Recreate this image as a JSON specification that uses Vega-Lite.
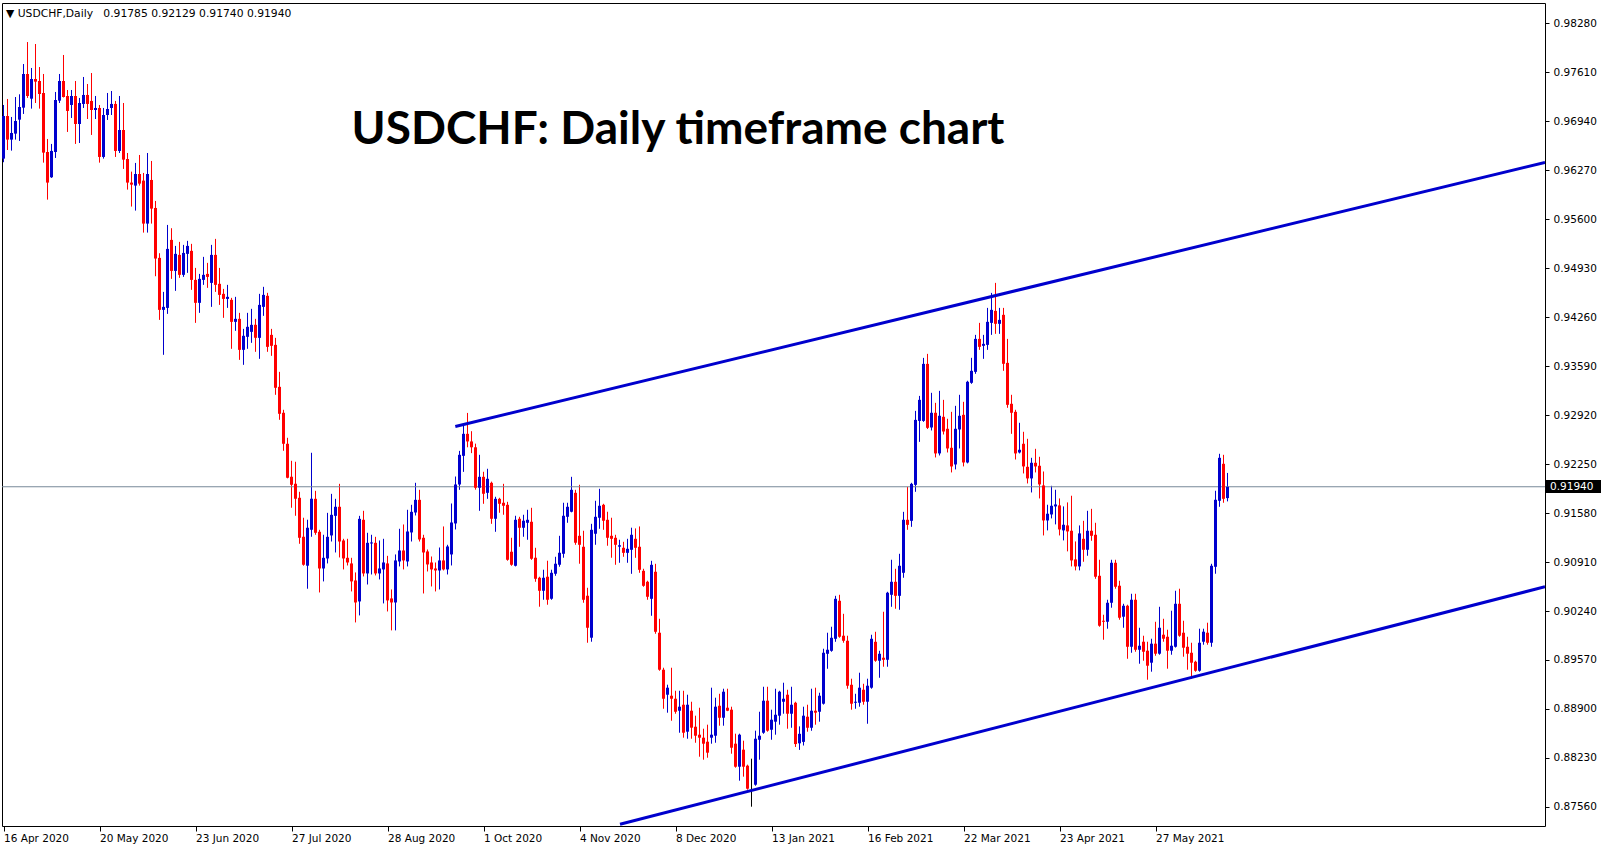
{
"$schema": "https://vega.github.io/schema/vega-lite/v6.json",
"width": 1543, "height": 823,
"autosize": {"type": "none"},
"padding": {"left": 2, "top": 3, "right": 62, "bottom": 24},
"background": "white",
"config": {"view": {"stroke": "#000000", "strokeWidth": 1}, "axis": {"grid": false, "domain": false, "title": null}, "scale": {"continuousPadding": 0}},
"datasets": {
"bid": [{"p": 0.9194}],
"title": [{"t": "USDCHF: Daily timeframe chart"}],
"header": [{"t": "▼ USDCHF,Daily\u00a0\u00a0 0.91785 0.92129 0.91740 0.91940"}],
"trend": [
{"ln": "upper", "i": 112.95, "p": 0.92764}, {"ln": "upper", "i": 385.375, "p": 0.96378},
{"ln": "lower", "i": 154.125, "p": 0.87324}, {"ln": "lower", "i": 385.375, "p": 0.90572}
],
"candles": [
{"i":0,"o":0.96429,"h":0.97163,"l":0.9638,"c":0.97012},
{"i":1,"o":0.97012,"h":0.97245,"l":0.96547,"c":0.96689},
{"i":2,"o":0.96689,"h":0.96999,"l":0.96538,"c":0.9678},
{"i":3,"o":0.96771,"h":0.97272,"l":0.96689,"c":0.96944},
{"i":4,"o":0.96962,"h":0.97309,"l":0.96671,"c":0.97135},
{"i":5,"o":0.97126,"h":0.97723,"l":0.9704,"c":0.97587},
{"i":6,"o":0.97587,"h":0.98024,"l":0.97259,"c":0.97286},
{"i":7,"o":0.97249,"h":0.97669,"l":0.97113,"c":0.97518},
{"i":8,"o":0.97518,"h":0.97997,"l":0.9719,"c":0.97482},
{"i":9,"o":0.97491,"h":0.97682,"l":0.97113,"c":0.97313},
{"i":10,"o":0.97327,"h":0.97587,"l":0.96374,"c":0.96511},
{"i":11,"o":0.9652,"h":0.96698,"l":0.95868,"c":0.96101},
{"i":12,"o":0.96174,"h":0.9663,"l":0.96165,"c":0.96534},
{"i":13,"o":0.9652,"h":0.97341,"l":0.96438,"c":0.97231},
{"i":14,"o":0.97222,"h":0.97587,"l":0.9719,"c":0.97491},
{"i":15,"o":0.97491,"h":0.97847,"l":0.97265,"c":0.97272},
{"i":16,"o":0.97286,"h":0.97368,"l":0.96794,"c":0.97081},
{"i":17,"o":0.97163,"h":0.97368,"l":0.96985,"c":0.97286},
{"i":18,"o":0.97286,"h":0.97491,"l":0.9663,"c":0.96903},
{"i":19,"o":0.96903,"h":0.97259,"l":0.96643,"c":0.9719},
{"i":20,"o":0.97177,"h":0.97546,"l":0.97122,"c":0.973},
{"i":21,"o":0.973,"h":0.9745,"l":0.96971,"c":0.97177},
{"i":22,"o":0.97218,"h":0.976,"l":0.96753,"c":0.97094},
{"i":23,"o":0.97094,"h":0.97286,"l":0.96971,"c":0.97122},
{"i":24,"o":0.97122,"h":0.97163,"l":0.96374,"c":0.96452},
{"i":25,"o":0.96452,"h":0.97122,"l":0.96429,"c":0.97026},
{"i":26,"o":0.97026,"h":0.97327,"l":0.96958,"c":0.97108},
{"i":27,"o":0.97122,"h":0.97354,"l":0.97026,"c":0.97177},
{"i":28,"o":0.97177,"h":0.97218,"l":0.96452,"c":0.96534},
{"i":29,"o":0.96534,"h":0.97286,"l":0.96506,"c":0.96821},
{"i":30,"o":0.96821,"h":0.9719,"l":0.96288,"c":0.96415},
{"i":31,"o":0.96424,"h":0.96506,"l":0.96005,"c":0.96101},
{"i":32,"o":0.96101,"h":0.96251,"l":0.95773,"c":0.96073},
{"i":33,"o":0.9606,"h":0.9637,"l":0.95718,"c":0.96219},
{"i":34,"o":0.96219,"h":0.96479,"l":0.9606,"c":0.96087},
{"i":35,"o":0.96128,"h":0.96233,"l":0.95417,"c":0.9554},
{"i":36,"o":0.9554,"h":0.96506,"l":0.95417,"c":0.96219},
{"i":37,"o":0.96137,"h":0.96397,"l":0.9554,"c":0.95745},
{"i":38,"o":0.95754,"h":0.9585,"l":0.9482,"c":0.95062},
{"i":39,"o":0.95071,"h":0.95135,"l":0.94223,"c":0.9436},
{"i":40,"o":0.9436,"h":0.94606,"l":0.93745,"c":0.94401},
{"i":41,"o":0.94387,"h":0.95522,"l":0.94305,"c":0.95194},
{"i":42,"o":0.95317,"h":0.95477,"l":0.94784,"c":0.94893},
{"i":43,"o":0.94893,"h":0.95235,"l":0.9462,"c":0.95126},
{"i":44,"o":0.95112,"h":0.9529,"l":0.94798,"c":0.94839},
{"i":45,"o":0.94839,"h":0.95249,"l":0.94811,"c":0.95139},
{"i":46,"o":0.95126,"h":0.95304,"l":0.94866,"c":0.95235},
{"i":47,"o":0.95167,"h":0.95263,"l":0.94634,"c":0.9477},
{"i":48,"o":0.9477,"h":0.94934,"l":0.94182,"c":0.94456},
{"i":49,"o":0.94456,"h":0.94852,"l":0.94319,"c":0.94784},
{"i":50,"o":0.9477,"h":0.95085,"l":0.94702,"c":0.94839},
{"i":51,"o":0.94852,"h":0.95003,"l":0.94661,"c":0.94811},
{"i":52,"o":0.94729,"h":0.95249,"l":0.94401,"c":0.95112},
{"i":53,"o":0.95112,"h":0.95331,"l":0.94606,"c":0.94702},
{"i":54,"o":0.94716,"h":0.94934,"l":0.94428,"c":0.94565},
{"i":55,"o":0.94579,"h":0.94647,"l":0.94251,"c":0.9451},
{"i":56,"o":0.9451,"h":0.94702,"l":0.94387,"c":0.94538},
{"i":57,"o":0.94497,"h":0.94524,"l":0.93827,"c":0.94196},
{"i":58,"o":0.94196,"h":0.94538,"l":0.94073,"c":0.94237},
{"i":59,"o":0.94237,"h":0.94319,"l":0.93676,"c":0.93813},
{"i":60,"o":0.93813,"h":0.941,"l":0.93608,"c":0.94005},
{"i":61,"o":0.93991,"h":0.94319,"l":0.93827,"c":0.94128},
{"i":62,"o":0.94059,"h":0.94374,"l":0.93909,"c":0.94155},
{"i":63,"o":0.94155,"h":0.94237,"l":0.93786,"c":0.93977},
{"i":64,"o":0.93977,"h":0.94579,"l":0.9369,"c":0.94428},
{"i":65,"o":0.94401,"h":0.94675,"l":0.94278,"c":0.94565},
{"i":66,"o":0.94552,"h":0.94593,"l":0.93786,"c":0.93854},
{"i":67,"o":0.94018,"h":0.941,"l":0.93731,"c":0.93868},
{"i":68,"o":0.93881,"h":0.93977,"l":0.93198,"c":0.93294},
{"i":69,"o":0.93307,"h":0.93512,"l":0.92856,"c":0.92938},
{"i":70,"o":0.92952,"h":0.92993,"l":0.92432,"c":0.92528},
{"i":71,"o":0.92528,"h":0.9261,"l":0.92055,"c":0.92063},
{"i":72,"o":0.92077,"h":0.92295,"l":0.91653,"c":0.91967},
{"i":73,"o":0.91981,"h":0.92282,"l":0.91543,"c":0.91776},
{"i":74,"o":0.91789,"h":0.91871,"l":0.9116,"c":0.91242},
{"i":75,"o":0.91256,"h":0.91516,"l":0.9086,"c":0.90873},
{"i":76,"o":0.9086,"h":0.91489,"l":0.90545,"c":0.91379},
{"i":77,"o":0.91352,"h":0.92405,"l":0.91256,"c":0.91776},
{"i":78,"o":0.91775,"h":0.91884,"l":0.91283,"c":0.9131},
{"i":79,"o":0.91324,"h":0.91351,"l":0.90494,"c":0.90822},
{"i":80,"o":0.90822,"h":0.91283,"l":0.90645,"c":0.90968},
{"i":81,"o":0.90959,"h":0.91583,"l":0.90891,"c":0.91255},
{"i":82,"o":0.91274,"h":0.91843,"l":0.91191,"c":0.91556},
{"i":83,"o":0.91542,"h":0.91775,"l":0.91041,"c":0.91666},
{"i":84,"o":0.91666,"h":0.9198,"l":0.90973,"c":0.91191},
{"i":85,"o":0.91205,"h":0.91228,"l":0.90809,"c":0.90959},
{"i":86,"o":0.90968,"h":0.91228,"l":0.90863,"c":0.90904},
{"i":87,"o":0.90891,"h":0.90968,"l":0.90508,"c":0.90645},
{"i":88,"o":0.90658,"h":0.90768,"l":0.90084,"c":0.90357},
{"i":89,"o":0.90371,"h":0.91542,"l":0.9018,"c":0.91501},
{"i":90,"o":0.91488,"h":0.91611,"l":0.90713,"c":0.90754},
{"i":91,"o":0.90754,"h":0.9131,"l":0.90603,"c":0.91173},
{"i":92,"o":0.91164,"h":0.91283,"l":0.9074,"c":0.91178},
{"i":93,"o":0.91173,"h":0.91255,"l":0.90727,"c":0.90754},
{"i":94,"o":0.90754,"h":0.91205,"l":0.90672,"c":0.90822},
{"i":95,"o":0.90809,"h":0.91228,"l":0.90344,"c":0.90904},
{"i":96,"o":0.90891,"h":0.90995,"l":0.90234,"c":0.90385},
{"i":97,"o":0.90412,"h":0.90535,"l":0.89975,"c":0.90357},
{"i":98,"o":0.90357,"h":0.91014,"l":0.89975,"c":0.90932},
{"i":99,"o":0.90918,"h":0.91365,"l":0.9085,"c":0.91068},
{"i":100,"o":0.91068,"h":0.91424,"l":0.90809,"c":0.90932},
{"i":101,"o":0.90918,"h":0.91625,"l":0.9085,"c":0.91328},
{"i":102,"o":0.91315,"h":0.91693,"l":0.91191,"c":0.91597},
{"i":103,"o":0.91588,"h":0.91994,"l":0.91547,"c":0.91761},
{"i":104,"o":0.91761,"h":0.91898,"l":0.91191,"c":0.91219},
{"i":105,"o":0.91242,"h":0.91283,"l":0.9048,"c":0.91041},
{"i":106,"o":0.91055,"h":0.91082,"l":0.90781,"c":0.90877},
{"i":107,"o":0.90904,"h":0.90986,"l":0.90576,"c":0.90809},
{"i":108,"o":0.90822,"h":0.90904,"l":0.90508,"c":0.90795},
{"i":109,"o":0.90795,"h":0.91109,"l":0.90535,"c":0.90932},
{"i":110,"o":0.90932,"h":0.91397,"l":0.90795,"c":0.90809},
{"i":111,"o":0.90809,"h":0.91146,"l":0.9074,"c":0.91123},
{"i":112,"o":0.91014,"h":0.91711,"l":0.90863,"c":0.91451},
{"i":113,"o":0.91438,"h":0.9208,"l":0.91356,"c":0.91971},
{"i":114,"o":0.91971,"h":0.92431,"l":0.91898,"c":0.92377},
{"i":115,"o":0.92363,"h":0.928,"l":0.92144,"c":0.92664},
{"i":116,"o":0.92664,"h":0.9295,"l":0.9248,"c":0.9256},
{"i":117,"o":0.9256,"h":0.927,"l":0.924,"c":0.9248},
{"i":118,"o":0.9248,"h":0.9253,"l":0.919,"c":0.91926},
{"i":119,"o":0.91926,"h":0.92377,"l":0.91611,"c":0.92076},
{"i":120,"o":0.92076,"h":0.92145,"l":0.91707,"c":0.91844},
{"i":121,"o":0.91857,"h":0.92186,"l":0.91775,"c":0.92049},
{"i":122,"o":0.91994,"h":0.9201,"l":0.91433,"c":0.91502},
{"i":123,"o":0.91502,"h":0.91803,"l":0.91324,"c":0.91775},
{"i":124,"o":0.91775,"h":0.91789,"l":0.91584,"c":0.91707},
{"i":125,"o":0.91721,"h":0.9198,"l":0.91557,"c":0.9168},
{"i":126,"o":0.91693,"h":0.91734,"l":0.90928,"c":0.90941},
{"i":127,"o":0.91051,"h":0.91242,"l":0.90859,"c":0.90873},
{"i":128,"o":0.90859,"h":0.91543,"l":0.9085,"c":0.91488},
{"i":129,"o":0.91502,"h":0.91529,"l":0.91119,"c":0.91379},
{"i":130,"o":0.91379,"h":0.91557,"l":0.91256,"c":0.91475},
{"i":131,"o":0.91447,"h":0.91625,"l":0.91215,"c":0.91488},
{"i":132,"o":0.91461,"h":0.91652,"l":0.9094,"c":0.90955},
{"i":133,"o":0.90969,"h":0.91105,"l":0.9064,"c":0.90681},
{"i":134,"o":0.90695,"h":0.90709,"l":0.90299,"c":0.90517},
{"i":135,"o":0.90517,"h":0.90805,"l":0.90394,"c":0.90695},
{"i":136,"o":0.90709,"h":0.90928,"l":0.90326,"c":0.90394},
{"i":137,"o":0.90408,"h":0.90805,"l":0.90394,"c":0.90763},
{"i":138,"o":0.9075,"h":0.90982,"l":0.90722,"c":0.90887},
{"i":139,"o":0.90873,"h":0.91269,"l":0.90846,"c":0.91037},
{"i":140,"o":0.91023,"h":0.91721,"l":0.90969,"c":0.91543},
{"i":141,"o":0.91529,"h":0.91721,"l":0.91447,"c":0.91666},
{"i":142,"o":0.91598,"h":0.92076,"l":0.9159,"c":0.91898},
{"i":143,"o":0.91857,"h":0.91898,"l":0.91146,"c":0.91174},
{"i":144,"o":0.91269,"h":0.91967,"l":0.90887,"c":0.91146},
{"i":145,"o":0.91119,"h":0.91338,"l":0.90353,"c":0.90394},
{"i":146,"o":0.90449,"h":0.90558,"l":0.89806,"c":0.90011},
{"i":147,"o":0.89875,"h":0.91433,"l":0.8982,"c":0.91351},
{"i":148,"o":0.91297,"h":0.91748,"l":0.91146,"c":0.91529},
{"i":149,"o":0.91516,"h":0.91912,"l":0.91365,"c":0.9168},
{"i":150,"o":0.91693,"h":0.91707,"l":0.91351,"c":0.91475},
{"i":151,"o":0.91488,"h":0.91598,"l":0.91133,"c":0.91242},
{"i":152,"o":0.91269,"h":0.91516,"l":0.90969,"c":0.91228},
{"i":153,"o":0.91242,"h":0.91283,"l":0.90873,"c":0.91146},
{"i":154,"o":0.9112,"h":0.91215,"l":0.909,"c":0.9114},
{"i":155,"o":0.91105,"h":0.91187,"l":0.90982,"c":0.91036},
{"i":156,"o":0.91036,"h":0.91228,"l":0.909,"c":0.91091},
{"i":157,"o":0.91078,"h":0.9138,"l":0.90749,"c":0.91283},
{"i":158,"o":0.91228,"h":0.9137,"l":0.90968,"c":0.91105},
{"i":159,"o":0.91119,"h":0.91397,"l":0.90763,"c":0.90804},
{"i":160,"o":0.9079,"h":0.90818,"l":0.90572,"c":0.90585},
{"i":161,"o":0.9064,"h":0.90654,"l":0.90394,"c":0.90435},
{"i":162,"o":0.90407,"h":0.90927,"l":0.90175,"c":0.90872},
{"i":163,"o":0.90777,"h":0.90886,"l":0.89929,"c":0.89956},
{"i":164,"o":0.89943,"h":0.90134,"l":0.89423,"c":0.89437},
{"i":165,"o":0.89437,"h":0.89464,"l":0.88903,"c":0.8904},
{"i":166,"o":0.89095,"h":0.89232,"l":0.88849,"c":0.89191},
{"i":167,"o":0.89081,"h":0.89464,"l":0.88739,"c":0.8904},
{"i":168,"o":0.8904,"h":0.89149,"l":0.88835,"c":0.88862},
{"i":169,"o":0.88876,"h":0.89149,"l":0.88575,"c":0.88931},
{"i":170,"o":0.88958,"h":0.89149,"l":0.88507,"c":0.88575},
{"i":171,"o":0.88589,"h":0.89095,"l":0.88493,"c":0.88958},
{"i":172,"o":0.88876,"h":0.88999,"l":0.88493,"c":0.88644},
{"i":173,"o":0.88657,"h":0.88808,"l":0.88438,"c":0.88534},
{"i":174,"o":0.88548,"h":0.88917,"l":0.88247,"c":0.88507},
{"i":175,"o":0.88507,"h":0.8863,"l":0.88206,"c":0.88425},
{"i":176,"o":0.88452,"h":0.88685,"l":0.88233,"c":0.88302},
{"i":177,"o":0.88507,"h":0.89191,"l":0.88425,"c":0.88548},
{"i":178,"o":0.88534,"h":0.89054,"l":0.88438,"c":0.88931},
{"i":179,"o":0.88944,"h":0.89108,"l":0.88671,"c":0.8878},
{"i":180,"o":0.8878,"h":0.89177,"l":0.88671,"c":0.89136},
{"i":181,"o":0.88917,"h":0.89177,"l":0.8887,"c":0.88876},
{"i":182,"o":0.8889,"h":0.88931,"l":0.88288,"c":0.8837},
{"i":183,"o":0.88425,"h":0.88562,"l":0.88097,"c":0.8811},
{"i":184,"o":0.8811,"h":0.88562,"l":0.87919,"c":0.88548},
{"i":185,"o":0.88343,"h":0.88466,"l":0.87974,"c":0.8811},
{"i":186,"o":0.88124,"h":0.88138,"l":0.87796,"c":0.87809},
{"i":187,"o":0.87819,"h":0.8822,"l":0.87563,"c":0.87819},
{"i":188,"o":0.87864,"h":0.88603,"l":0.8785,"c":0.88493},
{"i":189,"o":0.88479,"h":0.88862,"l":0.88206,"c":0.88534},
{"i":190,"o":0.88575,"h":0.89204,"l":0.8856,"c":0.89013},
{"i":191,"o":0.89013,"h":0.89204,"l":0.88589,"c":0.88603},
{"i":192,"o":0.88616,"h":0.8889,"l":0.88479,"c":0.88753},
{"i":193,"o":0.88726,"h":0.89177,"l":0.88548,"c":0.88821},
{"i":194,"o":0.88808,"h":0.89149,"l":0.88685,"c":0.89136},
{"i":195,"o":0.88999,"h":0.89259,"l":0.88835,"c":0.8904},
{"i":196,"o":0.89095,"h":0.89163,"l":0.8863,"c":0.88835},
{"i":197,"o":0.88835,"h":0.89204,"l":0.88643,"c":0.88958},
{"i":198,"o":0.88985,"h":0.88999,"l":0.8838,"c":0.8842},
{"i":199,"o":0.8843,"h":0.88662,"l":0.8834,"c":0.8856},
{"i":200,"o":0.8845,"h":0.88931,"l":0.884,"c":0.88808},
{"i":201,"o":0.88794,"h":0.88958,"l":0.88589,"c":0.88643},
{"i":202,"o":0.88643,"h":0.89177,"l":0.88602,"c":0.88876},
{"i":203,"o":0.88876,"h":0.89191,"l":0.88685,"c":0.88849},
{"i":204,"o":0.88862,"h":0.89122,"l":0.88726,"c":0.89081},
{"i":205,"o":0.88972,"h":0.89724,"l":0.8896,"c":0.89669},
{"i":206,"o":0.89655,"h":0.89943,"l":0.8945,"c":0.8971},
{"i":207,"o":0.89696,"h":0.90025,"l":0.89683,"c":0.89874},
{"i":208,"o":0.8986,"h":0.90448,"l":0.89819,"c":0.90407},
{"i":209,"o":0.9038,"h":0.90462,"l":0.89874,"c":0.89888},
{"i":210,"o":0.89902,"h":0.90202,"l":0.89806,"c":0.89833},
{"i":211,"o":0.89833,"h":0.89902,"l":0.89177,"c":0.89218},
{"i":212,"o":0.89231,"h":0.89314,"l":0.8889,"c":0.88972},
{"i":213,"o":0.88985,"h":0.89108,"l":0.88903,"c":0.88999},
{"i":214,"o":0.88985,"h":0.89396,"l":0.88931,"c":0.89191},
{"i":215,"o":0.89163,"h":0.89245,"l":0.88958,"c":0.88999},
{"i":216,"o":0.88999,"h":0.89314,"l":0.88698,"c":0.89218},
{"i":217,"o":0.89191,"h":0.89915,"l":0.89177,"c":0.8986},
{"i":218,"o":0.89819,"h":0.89956,"l":0.89546,"c":0.8956},
{"i":219,"o":0.8956,"h":0.89696,"l":0.89327,"c":0.89655},
{"i":220,"o":0.89601,"h":0.9023,"l":0.89478,"c":0.89573},
{"i":221,"o":0.89573,"h":0.90503,"l":0.89478,"c":0.9049},
{"i":222,"o":0.90462,"h":0.90941,"l":0.90298,"c":0.9064},
{"i":223,"o":0.9064,"h":0.90818,"l":0.90271,"c":0.90448},
{"i":224,"o":0.90448,"h":0.91023,"l":0.90257,"c":0.90859},
{"i":225,"o":0.90763,"h":0.91597,"l":0.90695,"c":0.91488},
{"i":226,"o":0.91488,"h":0.91939,"l":0.91351,"c":0.91419},
{"i":227,"o":0.91474,"h":0.91994,"l":0.91392,"c":0.9198},
{"i":228,"o":0.91966,"h":0.92978,"l":0.91871,"c":0.92855},
{"i":229,"o":0.92841,"h":0.93183,"l":0.92554,"c":0.93129},
{"i":230,"o":0.92841,"h":0.93703,"l":0.92828,"c":0.93621},
{"i":231,"o":0.93621,"h":0.93758,"l":0.9273,"c":0.92746},
{"i":232,"o":0.92751,"h":0.93225,"l":0.9271,"c":0.92952},
{"i":233,"o":0.92952,"h":0.93088,"l":0.92341,"c":0.92396},
{"i":234,"o":0.92396,"h":0.93252,"l":0.92368,"c":0.92911},
{"i":235,"o":0.92897,"h":0.93129,"l":0.92655,"c":0.92696},
{"i":236,"o":0.92733,"h":0.9287,"l":0.92409,"c":0.92464},
{"i":237,"o":0.92473,"h":0.92965,"l":0.92136,"c":0.92218},
{"i":238,"o":0.92245,"h":0.93047,"l":0.92177,"c":0.92733},
{"i":239,"o":0.92724,"h":0.93198,"l":0.92464,"c":0.92911},
{"i":240,"o":0.92924,"h":0.93102,"l":0.92218,"c":0.92272},
{"i":241,"o":0.92272,"h":0.9339,"l":0.9226,"c":0.93376},
{"i":242,"o":0.93362,"h":0.93704,"l":0.93348,"c":0.93526},
{"i":243,"o":0.93512,"h":0.94018,"l":0.93485,"c":0.93963},
{"i":244,"o":0.93963,"h":0.94182,"l":0.93813,"c":0.93854},
{"i":245,"o":0.93868,"h":0.94018,"l":0.9369,"c":0.93895},
{"i":246,"o":0.93881,"h":0.94387,"l":0.93813,"c":0.94196},
{"i":247,"o":0.94182,"h":0.94592,"l":0.94018,"c":0.9436},
{"i":248,"o":0.94346,"h":0.94729,"l":0.94032,"c":0.94169},
{"i":249,"o":0.94169,"h":0.94387,"l":0.94032,"c":0.94223},
{"i":250,"o":0.94292,"h":0.94387,"l":0.93526,"c":0.93622},
{"i":251,"o":0.93635,"h":0.93963,"l":0.9302,"c":0.93061},
{"i":252,"o":0.93075,"h":0.93198,"l":0.92664,"c":0.92952},
{"i":253,"o":0.92965,"h":0.92993,"l":0.92313,"c":0.92396},
{"i":254,"o":0.92409,"h":0.92815,"l":0.92396,"c":0.92446},
{"i":255,"o":0.92528,"h":0.92692,"l":0.92122,"c":0.92218},
{"i":256,"o":0.92213,"h":0.92596,"l":0.91985,"c":0.92054},
{"i":257,"o":0.92054,"h":0.92336,"l":0.91862,"c":0.92268},
{"i":258,"o":0.92268,"h":0.92459,"l":0.92136,"c":0.92218},
{"i":259,"o":0.92227,"h":0.9235,"l":0.9178,"c":0.91972},
{"i":260,"o":0.91958,"h":0.92149,"l":0.91274,"c":0.91479},
{"i":261,"o":0.91479,"h":0.91694,"l":0.91343,"c":0.91571},
{"i":262,"o":0.91561,"h":0.91953,"l":0.91507,"c":0.9168},
{"i":263,"o":0.91671,"h":0.91899,"l":0.91425,"c":0.91698},
{"i":264,"o":0.91685,"h":0.9178,"l":0.91274,"c":0.91356},
{"i":265,"o":0.91343,"h":0.91671,"l":0.91206,"c":0.9142},
{"i":266,"o":0.91411,"h":0.91726,"l":0.91056,"c":0.91329},
{"i":267,"o":0.91338,"h":0.91817,"l":0.9085,"c":0.90932},
{"i":268,"o":0.90946,"h":0.91192,"l":0.90796,"c":0.9085},
{"i":269,"o":0.9085,"h":0.91411,"l":0.90796,"c":0.91302},
{"i":270,"o":0.91228,"h":0.91474,"l":0.90914,"c":0.91078},
{"i":271,"o":0.91078,"h":0.91611,"l":0.90996,"c":0.91338},
{"i":272,"o":0.91338,"h":0.91638,"l":0.91201,"c":0.91269},
{"i":273,"o":0.91283,"h":0.91447,"l":0.90681,"c":0.90709},
{"i":274,"o":0.90722,"h":0.90941,"l":0.90025,"c":0.90039},
{"i":275,"o":0.90107,"h":0.90189,"l":0.89847,"c":0.90093},
{"i":276,"o":0.90093,"h":0.90394,"l":0.89998,"c":0.90353},
{"i":277,"o":0.90353,"h":0.90941,"l":0.90285,"c":0.909},
{"i":278,"o":0.909,"h":0.90941,"l":0.90545,"c":0.90572},
{"i":279,"o":0.90586,"h":0.90654,"l":0.90121,"c":0.90148},
{"i":280,"o":0.90162,"h":0.90339,"l":0.90011,"c":0.90312},
{"i":281,"o":0.90312,"h":0.90326,"l":0.89587,"c":0.89751},
{"i":282,"o":0.89751,"h":0.90476,"l":0.89669,"c":0.90394},
{"i":283,"o":0.90394,"h":0.90476,"l":0.89683,"c":0.8971},
{"i":284,"o":0.8971,"h":0.90011,"l":0.89519,"c":0.89765},
{"i":285,"o":0.8982,"h":0.89902,"l":0.8956,"c":0.89683},
{"i":286,"o":0.89697,"h":0.8982,"l":0.893,"c":0.89492},
{"i":287,"o":0.89533,"h":0.89861,"l":0.8941,"c":0.89793},
{"i":288,"o":0.89793,"h":0.90093,"l":0.89628,"c":0.89656},
{"i":289,"o":0.89656,"h":0.90298,"l":0.89642,"c":0.90011},
{"i":290,"o":0.89916,"h":0.90134,"l":0.8982,"c":0.89861},
{"i":291,"o":0.89888,"h":0.89984,"l":0.89451,"c":0.89697},
{"i":292,"o":0.89697,"h":0.90244,"l":0.89642,"c":0.89765},
{"i":293,"o":0.89751,"h":0.90517,"l":0.8974,"c":0.90339},
{"i":294,"o":0.90339,"h":0.90545,"l":0.89888,"c":0.89902},
{"i":295,"o":0.89943,"h":0.90107,"l":0.89615,"c":0.89738},
{"i":296,"o":0.89751,"h":0.89888,"l":0.89437,"c":0.89656},
{"i":297,"o":0.89669,"h":0.89806,"l":0.89314,"c":0.89533},
{"i":298,"o":0.89546,"h":0.8956,"l":0.8941,"c":0.89423},
{"i":299,"o":0.89423,"h":0.89998,"l":0.8941,"c":0.89806},
{"i":300,"o":0.8982,"h":0.89998,"l":0.89779,"c":0.89957},
{"i":301,"o":0.89943,"h":0.9008,"l":0.89779,"c":0.89806},
{"i":302,"o":0.89806,"h":0.90886,"l":0.89751,"c":0.90859},
{"i":303,"o":0.90845,"h":0.91885,"l":0.9075,"c":0.91762},
{"i":304,"o":0.91748,"h":0.92391,"l":0.91666,"c":0.92336},
{"i":305,"o":0.92254,"h":0.92377,"l":0.91721,"c":0.91775},
{"i":306,"o":0.91785,"h":0.92129,"l":0.9174,"c":0.9194}
]
},
"layer": [
{
"data": {"name": "candles"},
"mark": {"type": "rule", "strokeWidth": 1},
"encoding": {
"x": {"field": "i", "type": "quantitative", "title": null,
"scale": {"domain": [-0.375, 385.375], "nice": false, "zero": false, "padding": 0},
"axis": {"orient": "bottom", "values": [0,24,48,72,96,120,144,168,192,216,240,264,288],
"labelExpr": "['16 Apr 2020','20 May 2020','23 Jun 2020','27 Jul 2020','28 Aug 2020','1 Oct 2020','4 Nov 2020','8 Dec 2020','13 Jan 2021','16 Feb 2021','22 Mar 2021','23 Apr 2021','27 May 2021'][round(datum.value/24)]",
"labelAlign": "left", "labelBaseline": "top", "labelPadding": 2, "tickSize": 5, "tickColor": "#000000", "ticks": true,
"domain": false, "grid": false, "labelFont": "DejaVu Sans", "labelFontSize": 10.5, "labelColor": "#000000",
"labelOverlap": false, "labelFlush": false, "labelBound": false, "labels": true}},
"y": {"field": "l", "type": "quantitative", "title": null,
"scale": {"domain": [0.87299, 0.98558], "nice": false, "zero": false, "padding": 0},
"axis": {"orient": "right", "values": [0.8756,0.8823,0.889,0.8957,0.9024,0.9091,0.9158,0.9225,0.9292,0.9359,0.9426,0.9493,0.956,0.9627,0.9694,0.9761,0.9828],
"format": ".5f", "tickSize": 4, "tickColor": "#000000", "ticks": true, "labelPadding": 4, "domain": false, "grid": false,
"labelFont": "DejaVu Sans", "labelFontSize": 10.5, "labelColor": "#000000", "labelOverlap": false, "labelFlush": false, "labelBound": false, "labels": true}},
"y2": {"field": "h"},
"color": {"condition": [{"test": "datum.c > datum.o", "value": "#0000CD"}, {"test": "datum.c < datum.o", "value": "#FF0000"}], "value": "#000000"}
}
},
{
"data": {"name": "bid"},
"mark": {"type": "rule", "color": "#778899", "strokeWidth": 1},
"encoding": {
"y": {"field": "p", "type": "quantitative", "title": null, "scale": {"domain": [0.87299, 0.98558], "nice": false, "zero": false, "padding": 0}}
}
},
{
"data": {"name": "candles"},
"mark": {"type": "bar", "width": 3, "orient": "vertical"},
"encoding": {
"x": {"field": "i", "type": "quantitative", "title": null, "scale": {"domain": [-0.375, 385.375], "nice": false, "zero": false, "padding": 0}},
"y": {"field": "o", "type": "quantitative", "title": null, "scale": {"domain": [0.87299, 0.98558], "nice": false, "zero": false, "padding": 0}},
"y2": {"field": "c"},
"color": {"condition": [{"test": "datum.c > datum.o", "value": "#0000CD"}, {"test": "datum.c < datum.o", "value": "#FF0000"}], "value": "#000000"}
}
},
{
"data": {"name": "trend"},
"mark": {"type": "line", "color": "#0000CD", "strokeWidth": 3, "clip": true},
"encoding": {
"x": {"field": "i", "type": "quantitative", "title": null, "scale": {"domain": [-0.375, 385.375], "nice": false, "zero": false, "padding": 0}},
"y": {"field": "p", "type": "quantitative", "title": null, "scale": {"domain": [0.87299, 0.98558], "nice": false, "zero": false, "padding": 0}},
"detail": {"field": "ln"}
}
},
{
"data": {"name": "title"},
"mark": {"type": "text", "font": "Lato", "fontWeight": "bold", "fontSize": 46, "align": "center", "baseline": "alphabetic", "color": "#000000"},
"encoding": {
"x": {"datum": 168.625, "type": "quantitative", "title": null, "scale": {"domain": [-0.375, 385.375], "nice": false, "zero": false, "padding": 0}},
"y": {"datum": 0.96625, "type": "quantitative", "title": null, "scale": {"domain": [0.87299, 0.98558], "nice": false, "zero": false, "padding": 0}},
"text": {"field": "t"}
}
},
{
"data": {"name": "header"},
"mark": {"type": "text", "font": "DejaVu Sans", "fontSize": 10.75, "align": "left", "baseline": "alphabetic", "color": "#000000"},
"encoding": {
"x": {"datum": 0.625, "type": "quantitative", "title": null, "scale": {"domain": [-0.375, 385.375], "nice": false, "zero": false, "padding": 0}},
"y": {"datum": 0.98373, "type": "quantitative", "title": null, "scale": {"domain": [0.87299, 0.98558], "nice": false, "zero": false, "padding": 0}},
"text": {"field": "t"}
}
},
{
"data": {"name": "bid"},
"mark": {"type": "rect", "color": "#000000", "clip": false},
"encoding": {
"x": {"datum": 385.625, "type": "quantitative", "title": null, "scale": {"domain": [-0.375, 385.375], "nice": false, "zero": false, "padding": 0}},
"x2": {"datum": 399.375},
"y": {"datum": 0.92032, "type": "quantitative", "title": null, "scale": {"domain": [0.87299, 0.98558], "nice": false, "zero": false, "padding": 0}},
"y2": {"datum": 0.91855}
}
},
{
"data": {"name": "bid"},
"mark": {"type": "text", "color": "#FFFFFF", "font": "DejaVu Sans", "fontSize": 10.5, "align": "left", "baseline": "middle", "dx": 4, "clip": false},
"encoding": {
"x": {"datum": 385.625, "type": "quantitative", "title": null, "scale": {"domain": [-0.375, 385.375], "nice": false, "zero": false, "padding": 0}},
"y": {"field": "p", "type": "quantitative", "title": null, "scale": {"domain": [0.87299, 0.98558], "nice": false, "zero": false, "padding": 0}},
"text": {"field": "p", "format": ".5f"}
}
}
]
}
